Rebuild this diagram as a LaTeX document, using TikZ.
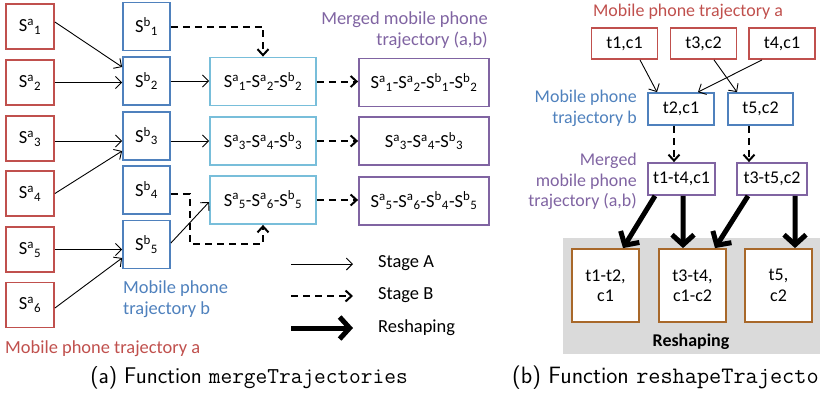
\documentclass[tikz,border=0pt]{standalone}
\usepackage{fontspec}
\setmainfont{Carlito}
\usetikzlibrary{arrows.meta}
\definecolor{cred}{HTML}{C0504D}
\definecolor{cblue}{HTML}{4F81BD}
\definecolor{ccyan}{HTML}{78BEDA}
\definecolor{cpurp}{HTML}{8064A2}
\definecolor{cbrown}{HTML}{A8682A}
\definecolor{cgray}{HTML}{DADADA}
\newcommand\myS[2]{S\textsuperscript{#1}\textsubscript{#2}}
\tikzset{
  txt/.style={font=\fontsize{18.5}{21}\selectfont, inner sep=0pt},
  txtr/.style={font=\fontsize{18}{20.5}\selectfont, inner sep=0pt},
  bx/.style={draw, line width=1.8bp, fill=white, inner sep=0pt},
  ba/.style={bx, txt, draw=cred, minimum width=48bp, minimum height=45bp},
  bb/.style={bx, txt, draw=cblue, minimum width=47bp, minimum height=48bp},
  bc/.style={bx, txt, draw=ccyan, minimum width=106bp, minimum height=48bp},
  bp/.style={bx, txt, draw=cpurp, minimum width=130bp, minimum height=48bp},
  rs/.style={bx, txtr, minimum width=66bp, minimum height=31bp},
  rbr/.style={bx, txtr, draw=cbrown, align=center, minimum width=67bp, minimum height=73bp},
  arrA/.style={line width=0.9bp, -{Straight Barb[length=6bp,width=12bp]}},
  arrB/.style={line width=2bp, dash pattern=on 7bp off 5bp, -{Straight Barb[length=6bp,width=11bp]}},
  arrR/.style={line width=5bp, -{Straight Barb[length=10bp,width=22bp]}},
  captxt/.style={inner sep=0pt, font=\fontsize{22.8}{26}\selectfont\sffamily}
}
\begin{document}
\begin{tikzpicture}[x=1bp,y=-1bp]
\clip (0,0) rectangle (820,402);
% ---------- left panel ----------
\node[ba] (a1) at (30,26.5) {\myS{a}{1}};
\node[ba] (a2) at (30,82.5) {\myS{a}{2}};
\node[ba] (a3) at (30,138.5) {\myS{a}{3}};
\node[ba] (a4) at (30,193.5) {\myS{a}{4}};
\node[ba] (a5) at (30,249.5) {\myS{a}{5}};
\node[ba] (a6) at (30,305) {\myS{a}{6}};
\node[bb] (b1) at (146.5,26.5) {\myS{b}{1}};
\node[bb] (b2) at (146.5,81) {\myS{b}{2}};
\node[bb] (b3) at (146.5,136) {\myS{b}{3}};
\node[bb] (b4) at (146.5,190) {\myS{b}{4}};
\node[bb] (b5) at (146.5,244.5) {\myS{b}{5}};
\node[bc] (c1) at (263,81.5) {\myS{a}{1}-\myS{a}{2}-\myS{b}{2}};
\node[bc] (c2) at (263,141) {\myS{a}{3}-\myS{a}{4}-\myS{b}{3}};
\node[bc] (c3) at (263,200) {\myS{a}{5}-\myS{a}{6}-\myS{b}{5}};
\node[bp] (p1) at (424,82.5) {\myS{a}{1}-\myS{a}{2}-\myS{b}{1}-\myS{b}{2}};
\node[bp] (p2) at (424,141) {\myS{a}{3}-\myS{a}{4}-\myS{b}{3}};
\node[bp] (p3) at (424,201) {\myS{a}{5}-\myS{a}{6}-\myS{b}{4}-\myS{b}{5}};

\draw[arrA] ([yshift=4.5bp]a1.east) -- ([yshift=14bp]b2.west);
\draw[arrA] (a2.east) -- (a2.east -| b2.west);
\draw[arrA] ([yshift=-2.5bp]a3.east) -- ([yshift=-2.5bp]a3.east -| b3.west);
\draw[arrA] (a4.east) -- ([yshift=-15bp]b3.west);
\draw[arrA] (a5.east) -- (a5.east -| b5.west);
\draw[arrA] ([yshift=-3bp]a6.east) -- ([yshift=-13.5bp]b5.west);
\draw[arrA] (b2.east) -- (b2.east -| c1.west);
\draw[arrA] (c2.west -| b3.east) -- (c2.west);
\draw[arrA] ([yshift=1.5bp]b5.east) -- ([yshift=-2bp]c3.west);
\draw[arrB] (b1.east) -| (c1.north);
\draw[arrB] ([yshift=-4bp]b4.east) -- ++(19,0) |- ([yshift=-19bp]c3.south) -- (c3.south);
\draw[arrB] (c1.east) -- (c1.east -| p1.west);
\draw[arrB] (c2.east) -- (c2.east -| p2.west);
\draw[arrB] (c3.east) -- (c3.east -| p3.west);

\node[txt, text=cpurp, align=right, anchor=east] (lm) at (488,30.5) {Merged mobile phone\\trajectory (a,b)};
\node[txt, text=cblue, align=left, anchor=west] (lb) at (123,299.5) {Mobile phone\\trajectory b};
\node[txt, text=cred, anchor=west] (la) at (5,349) {Mobile phone trajectory a};

% legend
\coordinate (l1s) at (291,264); \coordinate (l1e) at (353,264);
\coordinate (l2s) at (291,296); \coordinate (l2e) at (353,296);
\coordinate (l3s) at (291,328); \coordinate (l3e) at (353,328);
\draw[arrA] (l1s) -- (l1e);
\draw[arrB] (l2s) -- (l2e);
\draw[arrR] (l3s) -- (l3e);
\node[txt, anchor=west] (t1) at (378,263) {Stage A};
\node[txt, anchor=west] (t2) at (378,295) {Stage B};
\node[txt, anchor=west] (t3) at (378,328) {Reshaping};

\node[captxt] (capa) at (249,377.5) {(a) Function \texttt{mergeTrajectories}};

% ---------- right panel ----------
\node[rs, draw=cred] (ra1) at (624.5,43.5) {t1,c1};
\node[rs, draw=cred] (ra3) at (703.5,43.5) {t3,c2};
\node[rs, draw=cred] (ra4) at (782,43.5) {t4,c1};
\node[rs, draw=cblue, minimum height=32bp] (rb2) at (681,109) {t2,c1};
\node[rs, draw=cblue, minimum height=32bp, minimum width=65bp] (rb5) at (760.5,109) {t5,c2};
\node[rs, draw=cpurp, minimum height=32bp, minimum width=67bp] (rm1) at (681.5,179) {t1-t4,c1};
\node[rs, draw=cpurp, minimum height=32bp, minimum width=70bp] (rm2) at (772,179) {t3-t5,c2};

\fill[cgray] (563,238) rectangle (830,354);
\node[rbr] (rr1) at (605.5,285.5) {t1-t2,\\c1};
\node[rbr] (rr2) at (692.5,285.5) {t3-t4,\\c1-c2};
\node[rbr] (rr3) at (778.5,285.5) {t5,\\c2};
\node[txtr, font=\fontsize{18}{20.5}\selectfont\bfseries] (rsh) at (691,342) {Reshaping};

\node[txtr, text=cred] (rla) at (688,11.5) {Mobile phone trajectory a};
\node[txtr, text=cblue, align=right, anchor=east] (rlb) at (637,108.5) {Mobile phone\\trajectory b};
\node[txtr, text=cpurp, align=right, anchor=east] (rlm) at (637,181.5) {Merged\\mobile phone\\trajectory (a,b)};

\draw[arrA] ([xshift=15.5bp]ra1.south) -- ([xshift=-24bp]rb2.north);
\draw[arrA] ([xshift=10.5bp]ra3.south) -- ([xshift=-23.5bp]rb5.north);
\draw[arrA] ([xshift=-20bp]ra4.south) -- ([xshift=17bp]rb2.north);
\draw[arrB] ([xshift=-7bp]rb2.south) -- ([xshift=-7bp]rb2.south |- rm1.north);
\draw[arrB] ([xshift=-11.5bp]rb5.south) -- ([xshift=-11.5bp]rb5.south |- rm2.north);
\draw[arrR] ([xshift=-26.5bp]rm1.south) -- ([xshift=17.5bp]rr1.north);
\draw[arrR] ([xshift=1.5bp]rm1.south) -- ([xshift=-9.5bp]rr2.north);
\draw[arrR] ([xshift=-24bp]rm2.south) -- ([xshift=22.5bp]rr2.north);
\draw[arrR] ([xshift=23bp]rm2.south) -- ([xshift=16.5bp]rr3.north);

\node[captxt, font=\fontsize{23.7}{27}\selectfont\sffamily, anchor=west] (capb) at (512,377.5) {(b) Function \texttt{reshapeTrajecto}};
\end{tikzpicture}
\end{document}
